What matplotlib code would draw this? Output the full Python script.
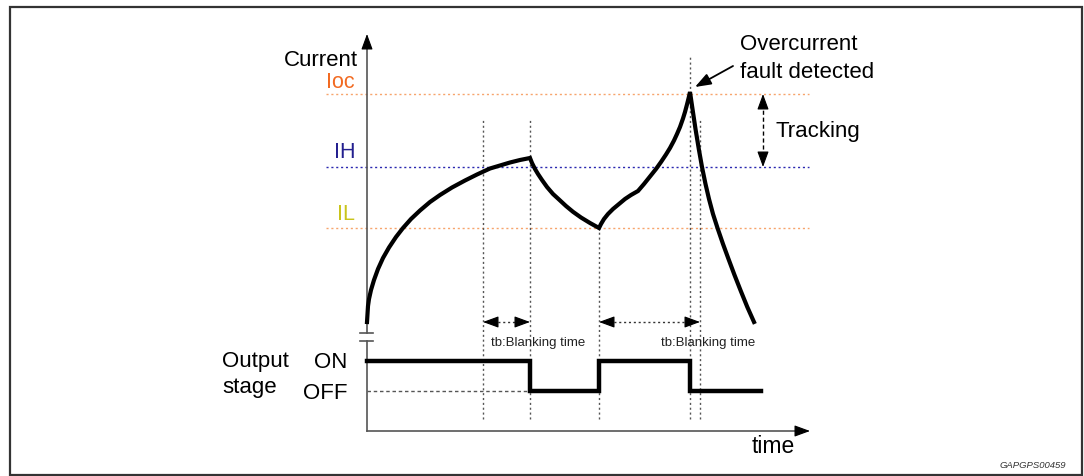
import matplotlib
matplotlib.use('Agg')
import matplotlib.pyplot as plt
from matplotlib.patches import Rectangle

plt.rcParams['font.family'] = ['Liberation Sans', 'DejaVu Sans']

# current waveform (time units, current units)
t_cur = [0.0, 0.1, 0.2, 0.4, 0.7, 1.1, 1.6, 2.2, 2.9, 3.6, 4.4, 5.3, 6.3, 7.3,
         8.5, 9.8, 11.0, 12.3, 13.3, 14.3, 15.3, 16.3,
         16.5, 16.8, 17.1, 17.5, 18.0, 18.6, 19.2, 19.9, 20.6, 21.4, 22.3, 23.2,
         23.4, 23.7, 24.1, 24.6, 25.2, 25.8, 26.4, 27.1,
         27.7, 28.3, 28.9, 29.4, 29.9, 30.3, 30.7, 31.0, 31.3, 31.6, 31.8, 32.0, 32.2, 32.3,
         32.55, 32.85, 33.18, 33.5, 33.85, 34.2, 34.6, 35.05, 35.6, 36.15, 36.75, 37.38, 38.03, 38.7]
i_cur = [10.9, 12.5, 13.2, 14.1, 15.1, 16.2, 17.3, 18.35, 19.4, 20.3, 21.2, 22.05, 22.9, 23.6,
         24.35, 25.05, 25.65, 26.25, 26.55, 26.85, 27.1, 27.3,
         26.8, 26.2, 25.7, 25.1, 24.4, 23.7, 23.15, 22.5, 21.92, 21.35, 20.8, 20.3,
         20.7, 21.2, 21.7, 22.2, 22.7, 23.2, 23.6, 24.0,
         24.7, 25.45, 26.2, 26.9, 27.65, 28.3, 29.05, 29.7, 30.4, 31.25, 31.9, 32.65, 33.45, 33.9,
         32.2, 30.2, 28.2, 26.4, 24.7, 23.2, 21.7, 20.3, 18.7, 17.2, 15.6, 14.0, 12.4, 10.9]

# thresholds
thr_names = ['Ioc', 'IH', 'IL']
thr_values = [33.7, 26.4, 20.3]
thr_label_y = [34.9, 28.0, 21.7]
thr_text_col = ['#f26a21', '#231f8f', '#c9c41c']
thr_line_col = ['#f7a46c', '#2a28b0', '#f7a46c']

# output stage
ON, OFF = 7.0, 4.0
t_out = [0, 16.3, 16.3, 23.2, 23.2, 32.3, 32.3, 39.4]
s_out = [ON, ON, OFF, OFF, ON, ON, OFF, OFF]

# blanking markers
t_vlines = [11.6, 16.3, 23.2, 32.3, 33.3]
vline_top = [31.1, 31.1, 20.3, 37.4, 31.2]
vline_bot = 1.2
blank_spans = [(11.6, 16.3), (23.2, 33.3)]
blank_text_x = [12.4, 29.4]
blank_level = 10.9

fig = plt.figure(figsize=(10.84, 4.77), dpi=100)
ax = fig.add_axes([0, 0, 1, 1])
ax.set_xlim(-36.7, 71.7)
ax.set_ylim(-4.5, 43.2)
ax.axis('off')

fig.patches.append(Rectangle((0.009, 0.002), 0.989, 0.981, transform=fig.transFigure,
                             fill=False, lw=1.6, ec='#333333'))

head = '-|>,head_length=0.6,head_width=0.22'


def arrow_head(tip, tail, scale=16):
    # solid filled head only; the shaft is drawn separately
    ax.annotate('', xy=tip, xytext=tail, annotation_clip=False,
                arrowprops=dict(arrowstyle=head, color='black', lw=0.8,
                                mutation_scale=scale, shrinkA=0, shrinkB=0))


# threshold lines
for name, v, ly, tc, lc in zip(thr_names, thr_values, thr_label_y, thr_text_col, thr_line_col):
    ax.plot([-4.1, 44.2], [v, v], color=lc, lw=1.0, ls=(0, (1.5, 2.0)))
    ax.text(-1.2, ly, name, color=tc, fontsize=15.5, ha='right', va='center')

# vertical dotted lines
for t, top in zip(t_vlines, vline_top):
    ax.plot([t, t], [vline_bot, top], color='#555555', lw=1.0, ls=(0, (1.5, 2.0)))

# OFF reference dashed
ax.plot([0, 16.3], [OFF, OFF], color='#555555', lw=1.0, ls=(0, (2.5, 2.0)))

# axes
ax.plot([0, 0], [0, 9.0], color='#555555', lw=1.2)
ax.plot([0, 0], [9.8, 38.5], color='#555555', lw=1.2)
ax.plot([-0.7, 0.6], [9.0, 9.0], color='#555555', lw=1.2)
ax.plot([-0.7, 0.6], [9.8, 9.8], color='#555555', lw=1.2)
arrow_head((0, 39.7), (0, 38.3))
ax.plot([0, 43.0], [0, 0], color='#555555', lw=1.2)
arrow_head((44.3, 0), (42.9, 0))

# waveforms
ax.plot(t_cur, i_cur, color='black', lw=3.0, solid_joinstyle='miter')
ax.plot(t_out, s_out, color='black', lw=3.2, solid_joinstyle='miter')

# blanking arrows
for (a, b), tx in zip(blank_spans, blank_text_x):
    ax.plot([a + 1.0, b - 1.0], [blank_level, blank_level], color='#333333', lw=1.0,
            ls=(0, (1.5, 2.0)))
    arrow_head((a, blank_level), (a + 1.3, blank_level))
    arrow_head((b, blank_level), (b - 1.3, blank_level))
    ax.text(tx, 8.9, 'tb:Blanking time', fontsize=9.5, ha='left', va='center', color='#222222')

# tracking arrow
ax.plot([39.6, 39.6], [27.5, 32.6], color='black', lw=1.0, ls=(0, (3, 2)))
arrow_head((39.6, 33.7), (39.6, 32.3))
arrow_head((39.6, 26.4), (39.6, 27.8))
ax.text(40.8, 30.0, 'Tracking', fontsize=16, ha='left', va='center')

# overcurrent annotation
ax.annotate('', xy=(32.8, 34.4), xytext=(36.6, 36.5),
            arrowprops=dict(arrowstyle=head, color='black', lw=1.3, mutation_scale=16,
                            shrinkA=0, shrinkB=0))
ax.text(37.3, 38.7, 'Overcurrent', fontsize=16, ha='left', va='center')
ax.text(37.3, 36.0, 'fault detected', fontsize=16, ha='left', va='center')

# labels
ax.text(-0.9, 37.2, 'Current', fontsize=16, ha='right', va='center')
ax.text(-14.5, 7.0, 'Output', fontsize=16, ha='left', va='center')
ax.text(-14.5, 4.4, 'stage', fontsize=16, ha='left', va='center')
ax.text(-2.0, 7.0, 'ON', fontsize=16, ha='right', va='center')
ax.text(-2.0, 3.8, 'OFF', fontsize=16, ha='right', va='center')
ax.text(42.8, -1.5, 'time', fontsize=16.5, ha='right', va='center')
ax.text(69.9, -3.4, 'GAPGPS00459', fontsize=6.8, style='italic', ha='right', va='center',
        color='#333333')

fig.savefig('out.png', dpi=100)
